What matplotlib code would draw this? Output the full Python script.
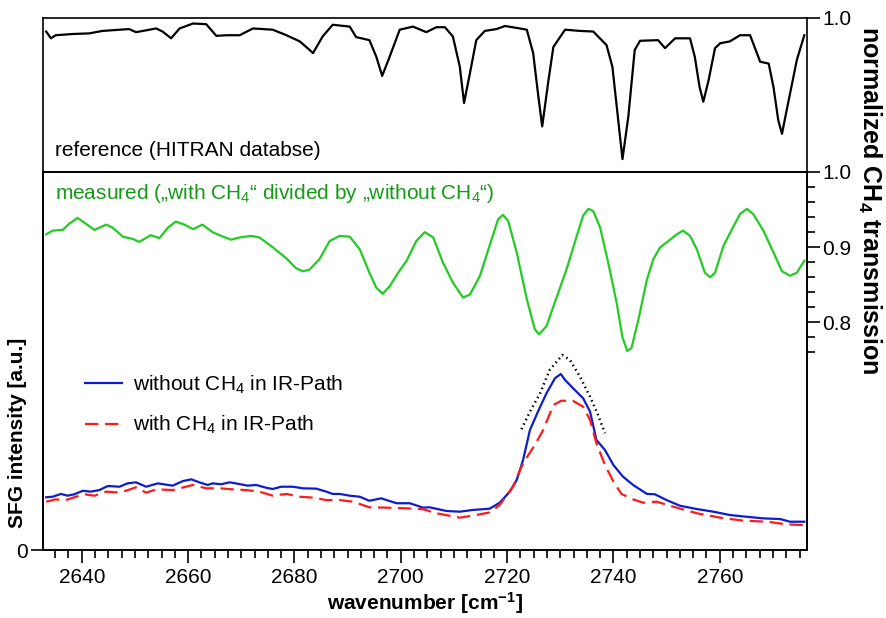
import numpy as np
import matplotlib
matplotlib.use("Agg")
import matplotlib.pyplot as plt
from matplotlib.ticker import MultipleLocator, FixedLocator

plt.rcParams["font.family"] = ["Liberation Sans", "DejaVu Sans"]
plt.rcParams["mathtext.fontset"] = "custom"
plt.rcParams["mathtext.rm"] = "Liberation Sans"
plt.rcParams["mathtext.bf"] = "Liberation Sans:bold"
plt.rcParams["mathtext.default"] = "regular"

# --- Referenz (HITRAN), normierte Transmission ---
hitran_wn = [2633.3, 2634.2, 2635.1, 2638.3, 2641.4, 2643.9, 2648.9, 2650.2, 2651.5, 2654.0,
             2655.2, 2656.8, 2658.4, 2660.9, 2663.4, 2665.3, 2667.2, 2669.7, 2672.2, 2675.9,
             2678.5, 2681.0, 2682.2, 2683.5, 2685.3, 2687.2, 2690.4, 2691.6, 2694.1, 2695.4,
             2696.5, 2697.9, 2699.8, 2702.3, 2704.8, 2706.7, 2708.3, 2709.8, 2711.1, 2711.9,
             2713.0, 2714.2, 2715.8, 2718.0, 2719.6, 2722.4, 2723.7, 2724.9, 2725.8, 2726.6,
             2727.7, 2728.7, 2730.9, 2733.7, 2736.2, 2738.7, 2739.8, 2740.9, 2741.7, 2742.8,
             2744.0, 2745.0, 2748.4, 2749.7, 2751.6, 2754.4, 2755.3, 2756.2, 2756.9, 2757.9,
             2759.1, 2760.1, 2761.9, 2763.8, 2765.7, 2767.6, 2769.2, 2770.1, 2771.0, 2771.7,
             2772.6, 2774.5, 2775.9]
hitran_t = [0.978, 0.967, 0.972, 0.974, 0.975, 0.979, 0.982, 0.977, 0.979, 0.983,
            0.978, 0.967, 0.983, 0.991, 0.990, 0.971, 0.972, 0.972, 0.983, 0.981,
            0.972, 0.962, 0.953, 0.943, 0.970, 0.989, 0.986, 0.969, 0.964, 0.937,
            0.906, 0.937, 0.981, 0.986, 0.977, 0.985, 0.985, 0.970, 0.921, 0.862,
            0.910, 0.964, 0.979, 0.982, 0.987, 0.983, 0.981, 0.943, 0.878, 0.824,
            0.894, 0.953, 0.981, 0.979, 0.978, 0.956, 0.921, 0.834, 0.771, 0.840,
            0.948, 0.963, 0.964, 0.951, 0.967, 0.967, 0.937, 0.888, 0.864, 0.899,
            0.951, 0.959, 0.962, 0.972, 0.972, 0.929, 0.926, 0.888, 0.834, 0.812,
            0.851, 0.932, 0.972]

# --- gemessen: "mit CH4" / "ohne CH4" ---
meas_wn = [2633.3, 2634.5, 2636.4, 2637.6, 2639.2, 2640.8, 2642.4, 2644.6, 2645.8, 2647.7,
           2649.6, 2650.8, 2653.0, 2654.6, 2656.2, 2657.7, 2659.3, 2660.9, 2662.7, 2664.6,
           2666.2, 2668.1, 2669.7, 2671.9, 2673.4, 2675.9, 2678.5, 2680.3, 2681.6, 2682.8,
           2684.7, 2686.6, 2688.5, 2690.4, 2692.3, 2694.1, 2695.4, 2696.6, 2697.9, 2699.5,
           2701.1, 2702.9, 2704.5, 2706.1, 2707.9, 2709.8, 2711.7, 2713.0, 2714.9, 2716.7,
           2718.3, 2719.2, 2720.2, 2721.8, 2723.7, 2725.2, 2726.0, 2727.4, 2729.3, 2731.2,
           2733.1, 2734.3, 2735.3, 2736.2, 2737.5, 2739.0, 2740.6, 2741.7, 2742.6, 2743.4,
           2744.7, 2746.3, 2747.5, 2748.8, 2750.3, 2751.9, 2753.1, 2754.4, 2755.7, 2757.2,
           2758.2, 2759.1, 2760.7, 2762.6, 2763.8, 2765.1, 2766.3, 2768.2, 2770.1, 2771.7,
           2773.2, 2774.5, 2775.9]
meas_t = [0.917, 0.922, 0.923, 0.931, 0.939, 0.931, 0.923, 0.930, 0.926, 0.914,
          0.911, 0.907, 0.916, 0.912, 0.926, 0.934, 0.930, 0.924, 0.930, 0.920,
          0.915, 0.910, 0.913, 0.915, 0.913, 0.900, 0.885, 0.872, 0.868, 0.870,
          0.884, 0.908, 0.915, 0.914, 0.897, 0.866, 0.846, 0.838, 0.848, 0.866,
          0.882, 0.908, 0.920, 0.913, 0.880, 0.853, 0.833, 0.837, 0.862, 0.902,
          0.937, 0.943, 0.935, 0.893, 0.831, 0.791, 0.784, 0.795, 0.833, 0.871,
          0.915, 0.942, 0.951, 0.948, 0.926, 0.880, 0.826, 0.780, 0.762, 0.766,
          0.804, 0.857, 0.884, 0.900, 0.908, 0.917, 0.922, 0.915, 0.897, 0.866,
          0.860, 0.866, 0.902, 0.928, 0.944, 0.951, 0.944, 0.922, 0.893, 0.868,
          0.862, 0.866, 0.882]

# --- SFG-Spektren [a.u.], Peak "ohne CH4" ~ 1 ---
sfg_wo_wn = [2633.3, 2634.5, 2636.1, 2637.3, 2638.6, 2640.2, 2641.7, 2643.3, 2644.9, 2647.1,
             2648.6, 2650.2, 2652.1, 2654.3, 2657.1, 2659.0, 2660.6, 2662.1, 2663.7, 2664.6,
             2666.2, 2667.8, 2669.7, 2671.2, 2672.8, 2674.7, 2675.9, 2677.5, 2679.7, 2681.6,
             2684.1, 2686.0, 2687.2, 2688.5, 2690.4, 2692.3, 2694.1, 2696.3, 2699.2, 2701.7,
             2704.2, 2705.4, 2708.6, 2711.1, 2713.6, 2716.7, 2718.6, 2720.5, 2721.8, 2723.0,
             2724.3, 2725.8, 2727.4, 2729.0, 2730.1, 2730.9, 2732.4, 2734.3, 2735.6, 2736.8,
             2738.4, 2740.0, 2741.8, 2743.7, 2746.3, 2747.8, 2750.0, 2752.5, 2755.7, 2758.8,
             2761.9, 2765.1, 2768.2, 2771.4, 2773.2, 2775.9]
sfg_wo = [0.300, 0.303, 0.319, 0.309, 0.317, 0.337, 0.332, 0.341, 0.364, 0.360,
          0.379, 0.385, 0.360, 0.379, 0.366, 0.392, 0.402, 0.385, 0.370, 0.379,
          0.374, 0.385, 0.375, 0.366, 0.370, 0.354, 0.347, 0.360, 0.360, 0.351,
          0.349, 0.332, 0.319, 0.319, 0.309, 0.303, 0.280, 0.294, 0.266, 0.266,
          0.241, 0.243, 0.222, 0.218, 0.228, 0.235, 0.269, 0.332, 0.398, 0.512,
          0.683, 0.787, 0.891, 0.977, 1.001, 0.967, 0.920, 0.863, 0.787, 0.626,
          0.569, 0.483, 0.417, 0.370, 0.319, 0.317, 0.284, 0.252, 0.233, 0.218,
          0.199, 0.189, 0.180, 0.176, 0.161, 0.161]
sfg_w_wn = [2633.3, 2635.1, 2637.0, 2638.9, 2640.5, 2642.4, 2644.6, 2646.4, 2648.3, 2650.2,
            2652.1, 2654.0, 2657.1, 2659.6, 2660.9, 2663.4, 2665.9, 2668.4, 2670.9, 2673.4,
            2675.9, 2678.5, 2681.0, 2683.5, 2686.0, 2688.5, 2691.0, 2694.1, 2697.3, 2701.1,
            2704.2, 2706.7, 2711.1, 2714.2, 2716.7, 2718.6, 2721.1, 2723.0, 2725.2, 2726.8,
            2728.7, 2730.2, 2732.4, 2734.3, 2735.6, 2736.8, 2738.4, 2740.0, 2741.5, 2743.7,
            2745.6, 2748.1, 2751.3, 2755.7, 2760.1, 2764.4, 2768.9, 2772.6, 2775.7]
sfg_w = [0.275, 0.288, 0.284, 0.303, 0.317, 0.309, 0.332, 0.328, 0.337, 0.357,
         0.326, 0.345, 0.341, 0.360, 0.370, 0.351, 0.351, 0.345, 0.341, 0.332,
         0.309, 0.319, 0.303, 0.298, 0.284, 0.284, 0.275, 0.243, 0.241, 0.237,
         0.232, 0.209, 0.184, 0.199, 0.214, 0.256, 0.360, 0.493, 0.597, 0.683,
         0.825, 0.849, 0.848, 0.815, 0.739, 0.607, 0.484, 0.389, 0.319, 0.288,
         0.269, 0.275, 0.246, 0.209, 0.184, 0.167, 0.161, 0.146, 0.142]
fit_wn = [2722.7, 2724.3, 2726.2, 2728.0, 2730.4, 2731.8, 2733.7, 2735.6, 2737.1, 2738.4]
fit_sfg = [0.687, 0.787, 0.891, 1.024, 1.109, 1.081, 0.986, 0.872, 0.768, 0.664]

BLUE, RED, GREEN, GREEN_TXT = "#0d1ccc", "#ff1a1a", "#22cc22", "#159a15"
FS = 15

fig = plt.figure(figsize=(8.86, 6.18), dpi=100)
ax_top = fig.add_axes([0.0485, 0.7217, 0.8623, 0.2492])
ax = fig.add_axes([0.0485, 0.1100, 0.8623, 0.6117])
axg = ax.twinx()

xlim = (2632.7, 2776.4)

# --- oben: HITRAN ---
ax_top.plot(hitran_wn, hitran_t, color="black", lw=1.6)
ax_top.set_xlim(*xlim)
ax_top.set_ylim(0.75, 1.0)
ax_top.set_xticks([])
ax_top.yaxis.tick_right()
ax_top.set_yticks([1.0])
ax_top.set_yticklabels(["1.0"], fontsize=FS)
ax_top.tick_params(axis="y", direction="out", length=9, width=1.2, pad=2)
ax_top.text(0.016, 0.14, "reference (HITRAN databse)", transform=ax_top.transAxes,
            fontsize=FS, va="center", ha="left")

# --- unten: SFG ---
ax.plot(sfg_wo_wn, sfg_wo, color=BLUE, lw=1.6, label="without CH$_4$ in IR-Path")
ax.plot(sfg_w_wn, sfg_w, color=RED, lw=1.6, dashes=(6, 3), label="with CH$_4$ in IR-Path")
ax.plot(fit_wn, fit_sfg, color="black", lw=1.8, linestyle=(0, (0.6, 1.4)))
ax.set_xlim(*xlim)
ax.set_ylim(0, 2.15)
ax.set_yticks([0])
ax.set_yticklabels(["0"], fontsize=FS)
ax.xaxis.set_major_locator(MultipleLocator(20))
ax.xaxis.set_minor_locator(MultipleLocator(2.5))
ax.tick_params(axis="x", which="major", length=9, width=1.2, labelsize=FS, pad=4)
ax.tick_params(axis="x", which="minor", length=6, width=1.2)
ax.tick_params(axis="y", length=9, width=1.2, pad=2)
ax.set_xlabel("wavenumber [cm$^\\mathbf{-1}$]", fontsize=FS, fontweight="bold", labelpad=2)

leg = ax.legend(loc="upper left", bbox_to_anchor=(0.055, 0.467), frameon=False,
                fontsize=FS, handlelength=1.8, handletextpad=0.5, labelspacing=0.88,
                borderpad=0, borderaxespad=0)

# --- gemessenes Verhältnis (rechte Achse) ---
axg.plot(meas_wn, meas_t, color=GREEN, lw=1.6)
axg.set_ylim(0.4973, 1.0)
axg.yaxis.set_major_locator(FixedLocator([0.8, 0.9, 1.0]))
axg.yaxis.set_minor_locator(FixedLocator(np.arange(0.76, 1.0, 0.02)))
axg.set_yticklabels(["0.8", "0.9", "1.0"], fontsize=FS)
axg.tick_params(axis="y", which="major", length=9, width=1.2, pad=2)
axg.tick_params(axis="y", which="minor", length=6, width=1.2)
ax.text(0.016, 0.942, "measured (\u201ewith CH$_4$\u201c divided by \u201ewithout CH$_4$\u201c)",
        transform=ax.transAxes, fontsize=FS, color=GREEN_TXT, va="center", ha="left")

for a in (ax_top, ax, axg):
    for s in a.spines.values():
        s.set_linewidth(1.2)

fig.text(0.02, 0.30, "SFG intensity [a.u.]", rotation=90, fontsize=FS,
         fontweight="bold", ha="center", va="center")
fig.text(0.981, 0.675, "normalized CH$_\\mathbf{4}$ transmission", rotation=270,
         fontsize=18, fontweight="bold", ha="center", va="center")

fig.savefig("out.png", dpi=100)
